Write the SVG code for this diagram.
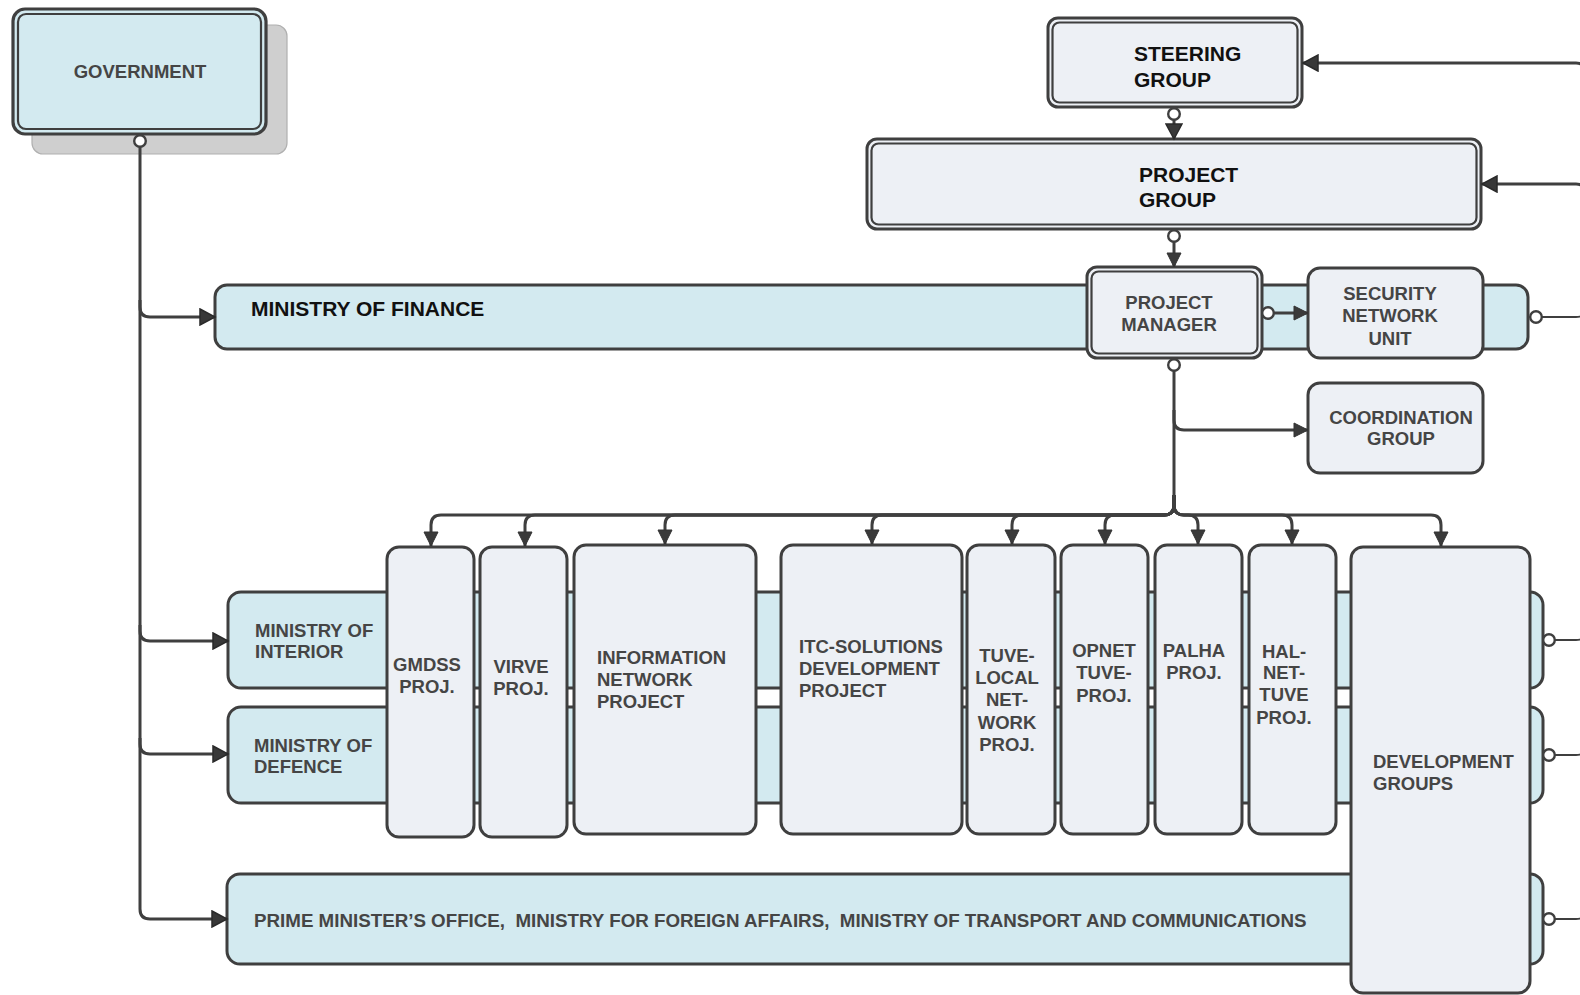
<svg xmlns="http://www.w3.org/2000/svg" width="1580" height="995" viewBox="0 0 1580 995">
<style>
.bar{fill:#d3eaf0;stroke:#3f3f3f;stroke-width:3}
.box{fill:#edf0f5;stroke:#3f3f3f;stroke-width:3}
.inner{fill:none;stroke:#3f3f3f;stroke-width:2.2}
.t{font-family:"Liberation Sans",Arial,sans-serif;font-weight:bold;font-size:18.5px;fill:#454545}
.tb{font-family:"Liberation Sans",Arial,sans-serif;font-weight:bold;font-size:21px;fill:#111}
.c{text-anchor:middle}
.ln{fill:none;stroke:#3f3f3f;stroke-width:3}
.ln2{fill:none;stroke:#3f3f3f;stroke-width:2}
</style>
<defs>
<marker id="arr" markerUnits="userSpaceOnUse" viewBox="0 0 18 18" markerWidth="18" markerHeight="18" refX="16" refY="9" orient="auto"><path d="M1,1 L16,9 L1,17 z" fill="#383838" stroke="#2a2a2a" stroke-width="1.5"/></marker>
<marker id="arrs" markerUnits="userSpaceOnUse" viewBox="0 0 16 16" markerWidth="16" markerHeight="16" refX="15" refY="8" orient="auto"><path d="M1,1 L15,8 L1,15 z" fill="#3a3a3a" stroke="#333" stroke-width="1"/></marker>
<marker id="dot" markerUnits="userSpaceOnUse" viewBox="0 0 16 16" markerWidth="16" markerHeight="16" refX="8" refY="8"><circle cx="8" cy="8" r="5.8" fill="#fff" stroke="#3f3f3f" stroke-width="2.4"/></marker>
</defs>

<g id="government">
<rect x="32" y="25" width="255" height="129" rx="11" fill="#cfcfcf" stroke="#b0b0b0" stroke-width="1.2"/>
<rect x="13" y="9" width="253" height="125" rx="12" fill="#d3eaf0" stroke="#3f3f3f" stroke-width="3.2"/>
<rect x="18" y="14" width="243" height="115" rx="8" class="inner"/>
<text class="t c" x="140" y="77.6">GOVERNMENT</text>
</g>

<g id="steering-group">
<rect x="1048" y="18" width="254" height="89" rx="10" class="box"/>
<rect x="1052.5" y="22.5" width="245" height="80" rx="7" class="inner"/>
<text class="tb" x="1134" y="61">STEERING</text>
<text class="tb" x="1134" y="87">GROUP</text>
</g>

<g id="project-group">
<rect x="867" y="139" width="614" height="90" rx="10" class="box"/>
<rect x="871.5" y="143.5" width="605" height="81" rx="7" class="inner"/>
<text class="tb" x="1139" y="181.5">PROJECT</text>
<text class="tb" x="1139" y="206.5">GROUP</text>
</g>

<g id="ministry-of-finance">
<rect x="215" y="285" width="1313" height="64" rx="12" class="bar"/>
<text class="tb" x="251" y="315.5">MINISTRY OF FINANCE</text>
</g>

<g id="ministry-of-interior">
<rect x="228" y="592" width="1315" height="96" rx="13" class="bar"/>
<text class="t" x="255" y="636.6">MINISTRY OF</text>
<text class="t" x="255" y="657.6">INTERIOR</text>
</g>

<g id="ministry-of-defence">
<rect x="228" y="707" width="1315" height="96" rx="13" class="bar"/>
<text class="t" x="254" y="751.6">MINISTRY OF</text>
<text class="t" x="254" y="772.6">DEFENCE</text>
</g>

<g id="prime-ministers-office">
<rect x="227" y="874" width="1316" height="90" rx="13" class="bar"/>
<text class="t" x="254" y="926.6" style="font-size:18.75px" xml:space="preserve">PRIME MINISTER’S OFFICE,  MINISTRY FOR FOREIGN AFFAIRS,  MINISTRY OF TRANSPORT AND COMMUNICATIONS</text>
</g>

<g id="project-manager">
<rect x="1087" y="267" width="175" height="91" rx="10" class="box"/>
<rect x="1091.5" y="271.5" width="166" height="82" rx="7" class="inner"/>
<text class="t c" x="1169" y="309">PROJECT</text>
<text class="t c" x="1169" y="331">MANAGER</text>
</g>

<g id="security-network-unit">
<rect x="1308" y="268" width="175" height="90" rx="12" class="box"/>
<text class="t c" x="1390" y="299.6">SECURITY</text>
<text class="t c" x="1390" y="322">NETWORK</text>
<text class="t c" x="1390" y="344.6">UNIT</text>
</g>

<g id="coordination-group">
<rect x="1308" y="383" width="175" height="90" rx="12" class="box"/>
<text class="t c" x="1401" y="424">COORDINATION</text>
<text class="t c" x="1401" y="445">GROUP</text>
</g>

<g id="gmdss-proj">
<rect x="387" y="547" width="87" height="290" rx="12" class="box"/>
<text class="t c" x="427" y="671">GMDSS</text>
<text class="t c" x="427" y="693">PROJ.</text>
</g>

<g id="virve-proj">
<rect x="480" y="547" width="87" height="290" rx="12" class="box"/>
<text class="t c" x="521" y="673">VIRVE</text>
<text class="t c" x="521" y="695">PROJ.</text>
</g>

<g id="information-network-project">
<rect x="574" y="545" width="182" height="289" rx="12" class="box"/>
<text class="t" x="597" y="664">INFORMATION</text>
<text class="t" x="597" y="686">NETWORK</text>
<text class="t" x="597" y="708">PROJECT</text>
</g>

<g id="itc-solutions-development-project">
<rect x="781" y="545" width="181" height="289" rx="12" class="box"/>
<text class="t" x="799" y="653">ITC-SOLUTIONS</text>
<text class="t" x="799" y="675">DEVELOPMENT</text>
<text class="t" x="799" y="697">PROJECT</text>
</g>

<g id="tuve-local-network-proj">
<rect x="967" y="545" width="88" height="289" rx="12" class="box"/>
<text class="t c" x="1007" y="662">TUVE-</text>
<text class="t c" x="1007" y="684">LOCAL</text>
<text class="t c" x="1007" y="706">NET-</text>
<text class="t c" x="1007" y="729">WORK</text>
<text class="t c" x="1007" y="751">PROJ.</text>
</g>

<g id="opnet-tuve-proj">
<rect x="1061" y="545" width="87" height="289" rx="12" class="box"/>
<text class="t c" x="1104" y="657">OPNET</text>
<text class="t c" x="1104" y="679">TUVE-</text>
<text class="t c" x="1104" y="702">PROJ.</text>
</g>

<g id="palha-proj">
<rect x="1155" y="545" width="87" height="289" rx="12" class="box"/>
<text class="t c" x="1194" y="657">PALHA</text>
<text class="t c" x="1194" y="679">PROJ.</text>
</g>

<g id="hal-net-tuve-proj">
<rect x="1249" y="545" width="87" height="289" rx="12" class="box"/>
<text class="t c" x="1284" y="658">HAL-</text>
<text class="t c" x="1284" y="679">NET-</text>
<text class="t c" x="1284" y="701">TUVE</text>
<text class="t c" x="1284" y="724">PROJ.</text>
</g>

<g id="development-groups">
<rect x="1351" y="547" width="179" height="446" rx="12" class="box"/>
<text class="t" x="1373" y="768">DEVELOPMENT</text>
<text class="t" x="1373" y="790">GROUPS</text>
</g>

<g id="connectors">
<path class="ln" d="M140,141 V909 Q140,919 150,919 H227" marker-start="url(#dot)" marker-end="url(#arr)"/>
<path class="ln" d="M140,300 V307 Q140,317 150,317 H215" marker-end="url(#arr)"/>
<path class="ln" d="M140,625 V631 Q140,641 150,641 H228" marker-end="url(#arr)"/>
<path class="ln" d="M140,738 V744 Q140,754 150,754 H228" marker-end="url(#arr)"/>
<path class="ln" d="M1174,114 V139" marker-start="url(#dot)" marker-end="url(#arr)"/>
<path class="ln" d="M1174,236 V267" marker-start="url(#dot)" marker-end="url(#arrs)"/>
<path class="ln" d="M1268,313 H1308" marker-start="url(#dot)" marker-end="url(#arrs)"/>
<path class="ln" d="M1174,365 V505" marker-start="url(#dot)"/>
<path class="ln" d="M1174,410 V420 Q1174,430 1184,430 H1308" marker-end="url(#arrs)"/>
<path class="ln" d="M1174,495 V505 Q1174,515 1164,515 H441 Q431,515 431,525 V546" marker-end="url(#arrs)"/>
<path class="ln" d="M1174,495 V505 Q1174,515 1164,515 H535 Q525,515 525,525 V546" marker-end="url(#arrs)"/>
<path class="ln" d="M1174,495 V505 Q1174,515 1164,515 H675 Q665,515 665,525 V544" marker-end="url(#arrs)"/>
<path class="ln" d="M1174,495 V505 Q1174,515 1164,515 H882 Q872,515 872,525 V544" marker-end="url(#arrs)"/>
<path class="ln" d="M1174,495 V505 Q1174,515 1164,515 H1022 Q1012,515 1012,525 V544" marker-end="url(#arrs)"/>
<path class="ln" d="M1174,495 V505 Q1174,515 1164,515 H1115 Q1105,515 1105,525 V544" marker-end="url(#arrs)"/>
<path class="ln" d="M1174,495 V505 Q1174,515 1184,515 H1188 Q1198,515 1198,525 V544" marker-end="url(#arrs)"/>
<path class="ln" d="M1174,495 V505 Q1174,515 1184,515 H1282 Q1292,515 1292,525 V544" marker-end="url(#arrs)"/>
<path class="ln" d="M1174,495 V505 Q1174,515 1184,515 H1431 Q1441,515 1441,525 V546" marker-end="url(#arrs)"/>
<path class="ln2" d="M1536,317 H1576 Q1586,317 1586,307" marker-start="url(#dot)"/>
<path class="ln" d="M1586,300 V194 Q1586,184 1576,184 H1482" marker-end="url(#arr)"/>
<path class="ln" d="M1586,194 V73 Q1586,63 1576,63 H1303" marker-end="url(#arr)"/>
<path class="ln2" d="M1549,640 H1576 Q1586,640 1586,630" marker-start="url(#dot)"/>
<path class="ln2" d="M1549,755 H1576 Q1586,755 1586,745" marker-start="url(#dot)"/>
<path class="ln2" d="M1549,919 H1576 Q1586,919 1586,909" marker-start="url(#dot)"/>
</g>
</svg>
